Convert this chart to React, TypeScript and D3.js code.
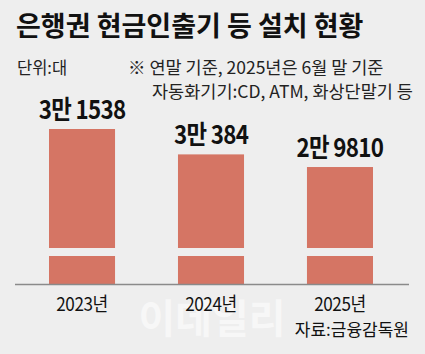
import React, { useEffect, useRef } from 'react';
import * as d3 from 'd3';

const years = ['2023년', '2024년', '2025년'];
const counts = [31538, 30384, 29810];
const countLabels = ['3만 1538', '3만 384', '2만 9810'];
const title = '은행권 현금인출기 등 설치 현황';
const unitText = '단위:대';
const noteLines = ['※ 연말 기준, 2025년은 6월 말 기준', '자동화기기:CD, ATM, 화상단말기 등'];
const sourceText = '자료:금융감독원';

const W = 425;
const H = 354;
const BG = '#eeeeee';
const BAR = '#d57564';
const FONT = "'Noto Sans CJK KR', 'Noto Sans', sans-serif";

const App: React.FC = () => {
  const svgRef = useRef<SVGSVGElement>(null);

  useEffect(() => {
    if (!svgRef.current) return;
    const svg = d3.select(svgRef.current);
    svg.selectAll('*').remove();

    svg.append('rect').attr('width', W).attr('height', H).attr('fill', BG);

    // titles
    svg.append('text')
      .attr('x', 16).attr('y', 36)
      .attr('font-family', FONT).attr('font-size', 27).attr('font-weight', 700)
      .attr('fill', '#111')
      .text(title);

    svg.append('text')
      .attr('x', 17).attr('y', 74)
      .attr('font-family', FONT).attr('font-size', 16.5)
      .attr('fill', '#222')
      .text(unitText);

    svg.append('text')
      .attr('x', 128).attr('y', 74)
      .attr('font-family', FONT).attr('font-size', 17.5)
      .attr('fill', '#222')
      .text(noteLines[0]);

    svg.append('text')
      .attr('x', 152).attr('y', 98)
      .attr('font-family', FONT).attr('font-size', 17.5)
      .attr('fill', '#222')
      .text(noteLines[1]);

    // watermark
    svg.append('text')
      .attr('x', 212).attr('y', 333)
      .attr('text-anchor', 'middle')
      .attr('font-family', FONT).attr('font-size', 40).attr('font-weight', 700)
      .attr('fill', '#ffffff').attr('opacity', 0.55)
      .text('이데일리');

    const baseY = 284;
    const breakTop = 248;
    const breakBottom = 256;

    const x = d3.scaleBand<string>()
      .domain(years)
      .range([49, 373])
      .paddingInner(0.488)
      .paddingOuter(0);

    // broken axis: upper segment scale
    const y = d3.scaleLinear()
      .domain([26130, 31538])
      .range([breakTop, 129]);

    const g = svg.append('g');

    g.selectAll('rect.bar')
      .data(counts)
      .enter()
      .append('rect')
      .attr('class', 'bar')
      .attr('x', (_, i) => x(years[i]) as number)
      .attr('y', d => y(d))
      .attr('width', x.bandwidth())
      .attr('height', d => baseY - y(d))
      .attr('fill', BAR);

    // axis break gap
    svg.append('rect')
      .attr('x', 0).attr('y', breakTop)
      .attr('width', W).attr('height', breakBottom - breakTop)
      .attr('fill', BG);

    // baseline
    svg.append('line')
      .attr('x1', 15).attr('x2', 409)
      .attr('y1', baseY + 0.5).attr('y2', baseY + 0.5)
      .attr('stroke', '#8a8a8a').attr('stroke-width', 1.5);

    // value labels (condensed)
    g.selectAll('text.val')
      .data(counts)
      .enter()
      .append('text')
      .attr('class', 'val')
      .attr('transform', (d, i) =>
        `translate(${(x(years[i]) as number) + x.bandwidth() / 2},${y(d) - 10}) scale(0.86,1)`)
      .attr('text-anchor', 'middle')
      .attr('font-family', FONT).attr('font-size', 26).attr('font-weight', 700)
      .attr('letter-spacing', -0.8)
      .attr('fill', '#111')
      .text((_, i) => countLabels[i]);

    // year labels
    g.selectAll('text.year')
      .data(years)
      .enter()
      .append('text')
      .attr('class', 'year')
      .attr('transform', d => `translate(${(x(d) as number) + x.bandwidth() / 2},311) scale(0.9,1)`)
      .attr('text-anchor', 'middle')
      .attr('font-family', FONT).attr('font-size', 19)
      .attr('letter-spacing', -0.5)
      .attr('fill', '#111')
      .text(d => d);

    svg.append('text')
      .attr('x', 409).attr('y', 336)
      .attr('text-anchor', 'end')
      .attr('font-family', FONT).attr('font-size', 17)
      .attr('fill', '#111')
      .text(sourceText);
  }, []);

  return (
    <svg
      ref={svgRef}
      width={W}
      height={H}
      style={{ position: 'absolute', left: 0, top: 0, display: 'block' }}
    />
  );
};

export default App;
